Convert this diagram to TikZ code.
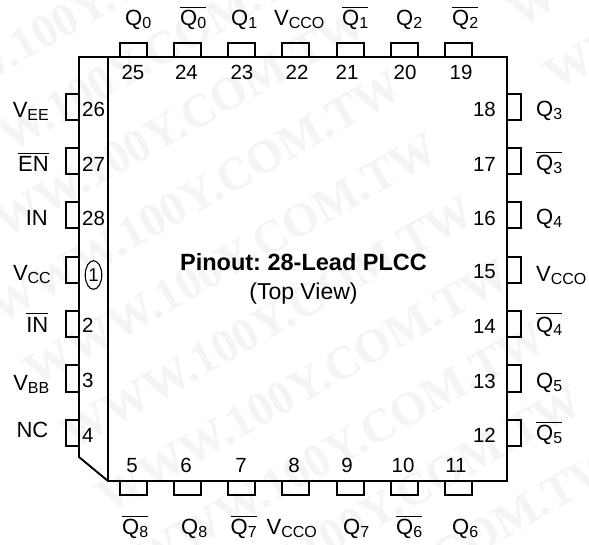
\documentclass[tikz,border=0pt]{standalone}
\usepackage{fontspec}
\setmainfont{Liberation Sans}
\newfontfamily\wmfont{Liberation Serif}
\newcommand{\ovl}[1]{\setbox0=\hbox{#1}\hbox to \wd0{\rlap{\raisebox{18pt}{\rule{\wd0}{0.9pt}}}\box0}}
\newcommand{\sg}[2]{#1\raisebox{-3.2pt}{\fontsize{16}{16}\selectfont #2}}
\definecolor{wm}{gray}{0.955}
\tikzset{
  x=1pt,y=-1pt,
  ln/.style={line width=1.9pt,black},
  pinbox/.style={line width=2pt,black,line join=miter},
  pinno/.style={font=\fontsize{20.5}{20.5}\selectfont,inner sep=0pt,text=black},
  sig/.style={font=\fontsize{22}{22}\selectfont,inner sep=0pt,text=black},
  wmark/.style={font=\wmfont\bfseries\fontsize{47}{47}\selectfont,text=wm,rotate=29.6,inner sep=0pt,anchor=base west},
}
\begin{document}
\frenchspacing
\begin{tikzpicture}
\useasboundingbox (0,0) rectangle (589,544);
\fill[white] (0,0) rectangle (589,544);
% faint watermark
\begin{scope}
\clip (0,0) rectangle (589,544);
\foreach \wk in {-3,...,6}{
  \node[wmark] (w\wk) at ({0.5+36*\wk},{325+63*\wk}) {WWW.100Y.COM.TW};
}
\node[wmark] (wa) at (520.5,29) {WWW.100Y.COM.TW};
\node[wmark] (wb) at (556.5,92) {WWW.100Y.COM.TW};
\end{scope}
% package body
\draw[ln,line join=miter] (79,57) -- (507,57) -- (507,481) -- (108,481) -- (79,457) -- cycle;
\draw[ln] (108,57) -- (108,481);
% top and bottom pins
\foreach \a/\b in {119.5/146.5,173.5/201,228/255,282/309,337/364,391/418,445/472}{
  \draw[pinbox] (\a,57) -- (\a,42.5) -- (\b,42.5) -- (\b,57);
  \draw[pinbox] (\a,481) -- (\a,495) -- (\b,495) -- (\b,481);
}
% left and right pins
\foreach \a/\b in {94/120,148/174,202/228,257/283,311/337,365/391.5,419.5/445.5}{
  \draw[pinbox] (79,\a) -- (65.5,\a) -- (65.5,\b) -- (79,\b);
  \draw[pinbox] (507,\a) -- (521,\a) -- (521,\b) -- (507,\b);
}
% pin numbers
\foreach \n/\px in {25/133,24/186.5,23/242,22/297,21/347,20/405,19/461}
  \node[pinno,anchor=base] (p\n) at (\px,79) {\n};
\foreach \n/\px in {5/132,6/186,7/241,8/294,9/347,10/403,11/456}
  \node[pinno,anchor=base] (p\n) at (\px,472) {\n};
\foreach \n/\py in {26/116.5,27/171,28/225,2/332,3/387,4/442}
  \node[pinno,anchor=base west] (p\n) at (82,\py) {\n};
\foreach \n/\py in {18/116.5,17/171,16/225,15/278,14/333,13/388,12/442}
  \node[pinno,anchor=base east] (p\n) at (496,\py) {\n};
\node[pinno,anchor=center,font=\fontsize{18.5}{18.5}\selectfont] (p1) at (93.5,275) {1};
\draw[line width=1.1pt] (93.5,275) ellipse [x radius=8.3,y radius=14.3];
% top signals
\node[sig,anchor=base west] (t25) at (125,25.5) {\sg{Q}{0}};
\node[sig,anchor=base west] (t24) at (180,25.5) {\ovl{\sg{Q}{0}}};
\node[sig,anchor=base west] (t23) at (231,25.5) {\sg{Q}{1}};
\node[sig,anchor=base west] (t22) at (274,25.5) {\sg{V}{CCO}};
\node[sig,anchor=base west] (t21) at (342,25.5) {\ovl{\sg{Q}{1}}};
\node[sig,anchor=base west] (t20) at (396,25.5) {\sg{Q}{2}};
\node[sig,anchor=base west] (t19) at (452,25.5) {\ovl{\sg{Q}{2}}};
% left signals
\node[sig,anchor=base east] (l26) at (49,117) {\sg{V}{EE}};
\node[sig,anchor=base east] (l27) at (49,171.7) {\ovl{EN}};
\node[sig,anchor=base east] (l28) at (48,225) {IN};
\node[sig,anchor=base east] (l1) at (51,280) {\sg{V}{CC}};
\node[sig,anchor=base east] (l2) at (48.5,332) {\ovl{IN}};
\node[sig,anchor=base east] (l3) at (49.5,390) {\sg{V}{BB}};
\node[sig,anchor=base east] (l4) at (48.5,437.7) {NC};
% right signals
\node[sig,anchor=base west] (r18) at (536,116) {\sg{Q}{3}};
\node[sig,anchor=base west] (r17) at (536,170.5) {\ovl{\sg{Q}{3}}};
\node[sig,anchor=base west] (r16) at (536,224) {\sg{Q}{4}};
\node[sig,anchor=base west] (r15) at (536,281) {\sg{V}{CCO}};
\node[sig,anchor=base west] (r14) at (536,332) {\ovl{\sg{Q}{4}}};
\node[sig,anchor=base west] (r13) at (536,388) {\sg{Q}{5}};
\node[sig,anchor=base west] (r12) at (536,440.5) {\ovl{\sg{Q}{5}}};
% bottom signals
\node[sig,anchor=base west] (b5) at (122,534.5) {\ovl{\sg{Q}{8}}};
\node[sig,anchor=base west] (b6) at (181,534.5) {\sg{Q}{8}};
\node[sig,anchor=base west] (b7) at (230.5,534.5) {\ovl{\sg{Q}{7}}};
\node[sig,anchor=base west] (b8) at (266.5,534.5) {\sg{V}{CCO}};
\node[sig,anchor=base west] (b9) at (343,534.5) {\sg{Q}{7}};
\node[sig,anchor=base west] (b10) at (396,534.5) {\ovl{\sg{Q}{6}}};
\node[sig,anchor=base west] (b11) at (452,534.5) {\sg{Q}{6}};
% title
\node[inner sep=0pt,anchor=base,font=\fontsize{23.5}{23.5}\selectfont\bfseries] (title) at (303.5,270) {Pinout: 28-Lead PLCC};
\node[inner sep=0pt,anchor=base,font=\fontsize{23}{23}\selectfont] (sub) at (303.5,299) {(Top View)};
\end{tikzpicture}
\end{document}
